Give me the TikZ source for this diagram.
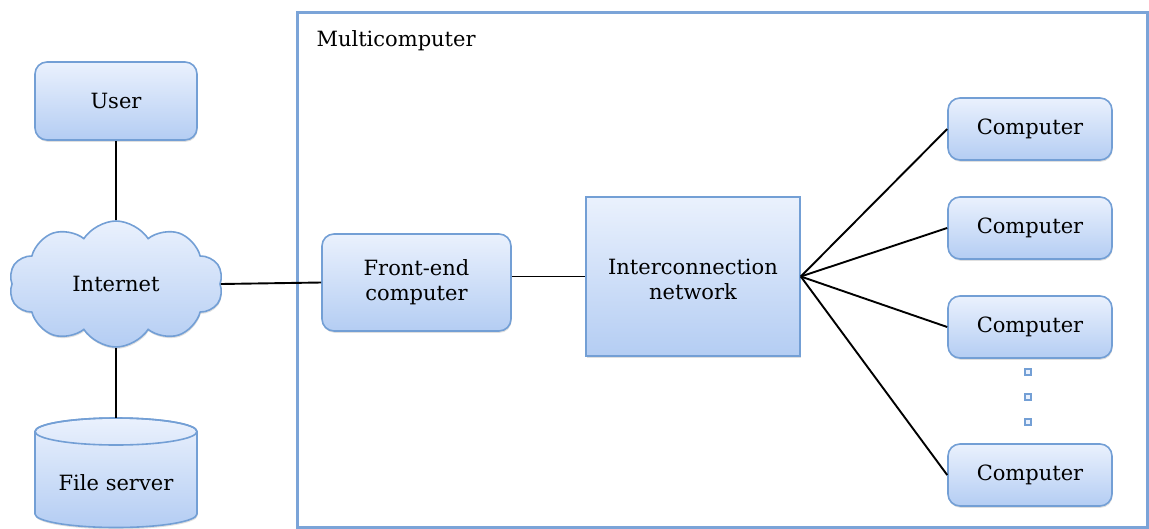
\documentclass[tikz,border=0pt]{standalone}
\usepackage{fontspec}
\setmainfont{DejaVu Serif}
\usetikzlibrary{shapes.symbols,shadows}
\definecolor{boxtop}{HTML}{EAF1FD}
\definecolor{boxbot}{HTML}{B4CDF3}
\definecolor{boxedge}{HTML}{739FD5}
\definecolor{frameblue}{HTML}{7BA4D8}
\begin{document}
\begin{tikzpicture}[x=1pt,y=-1pt,
  lbl/.style={font=\fontsize{21}{25}\selectfont},
  blue fill/.style={draw=boxedge, line width=1.6pt, top color=boxtop, bottom color=boxbot,
    drop shadow={shadow xshift=0.6pt, shadow yshift=-1.8pt, opacity=0.25}},
  rbox/.style={blue fill, lbl, rounded corners=12pt, align=center, inner sep=0pt},
  sbox/.style={blue fill, lbl, align=center, inner sep=0pt},
  dotbox/.style={draw=boxedge, fill=boxtop, line width=1.6pt, minimum size=6pt, inner sep=0pt},
  link/.style={draw=black, line width=1.9pt}]
\useasboundingbox (0,0) rectangle (1149,528);

% enclosing multicomputer frame
\draw[frameblue, line width=3pt] (297,12) rectangle (1147,527);
\node[lbl, anchor=base west] (mclabel) at (313,46) {Multicomputer};

% left column
\node[rbox, minimum width=162pt, minimum height=78pt] (user) at (116,101) {User};
\node[blue fill, lbl, cloud, cloud puffs=10, cloud puff arc=115, aspect=1.7,
      minimum width=214pt, minimum height=126pt, inner sep=0pt] (internet) at (116,284) {Internet};

% file server drum
\path[blue fill] (35,431.5) -- (35,514)
   arc[start angle=180, end angle=360, x radius=81pt, y radius=13.5pt]
   -- (197,431.5)
   arc[start angle=0, end angle=180, x radius=81pt, y radius=13.5pt] -- cycle;
\draw[boxedge, line width=1.6pt] (116,431.5) ellipse [x radius=81pt, y radius=13.5pt];
\coordinate (fstop) at (116,418);
\node[lbl] (fs) at (116,483) {File server};

% multicomputer contents
\node[rbox, minimum width=189pt, minimum height=97pt] (fe) at (416.5,282.5) {Front-end\\computer};
\node[sbox, minimum width=214pt, minimum height=159pt] (net) at (693,276.5) {};
\node[lbl, align=center] (nettext) at (693,279) {Interconnection\\network};

\node[rbox, minimum width=164pt, minimum height=62pt] (c1) at (1030,129) {Computer};
\node[rbox, minimum width=164pt, minimum height=62pt] (c2) at (1030,228) {Computer};
\node[rbox, minimum width=164pt, minimum height=62pt] (c3) at (1030,327) {Computer};
\node[rbox, minimum width=164pt, minimum height=62pt] (c4) at (1030,475) {Computer};

\node[dotbox] (d1) at (1028,372) {};
\node[dotbox] (d2) at (1028,397) {};
\node[dotbox] (d3) at (1028,422) {};

% connectors
\draw[link] (user.south) -- (internet.north);
\draw[link] (internet.south) -- (fstop);
\draw[link] (internet.east) -- (fe.west);
\draw[link] (fe.east |- net.west) -- (net.west);
\coordinate (hub) at (net.east);
\foreach \c in {c1,c2,c3,c4}
  \draw[link] (hub) -- (\c.west);
\end{tikzpicture}
\end{document}
